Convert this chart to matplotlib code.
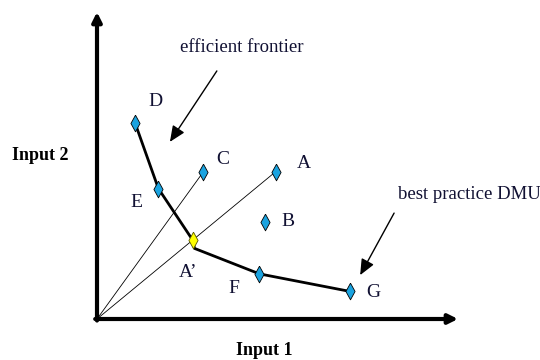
import matplotlib
matplotlib.use("Agg")
import matplotlib.pyplot as plt

# DMU positions (Input 1, Input 2)
dmu_names = ["D", "E", "C", "A", "B", "F", "G"]
input1 = [1.05, 1.70, 2.95, 4.95, 4.65, 4.50, 7.00]
input2 = [6.40, 4.25, 4.80, 4.80, 3.15, 1.47, 0.90]

# projection of A onto the frontier
a_proj = (2.65, 2.57)

# efficient frontier vertices
frontier_x = [1.05, 1.70, 2.65, 2.70, 4.50, 7.00]
frontier_y = [6.40, 4.25, 2.57, 2.30, 1.47, 0.90]

# rays from the origin
ray_targets = [(2.95, 4.80), (4.95, 4.80)]

# label positions
label_pos = {
    "D": (1.61, 7.07), "C": (3.49, 5.18), "A": (5.73, 5.08),
    "B": (5.29, 3.16), "E": (1.08, 3.78), "A\u2019": (2.52, 1.53),
    "F": (3.80, 0.98), "G": (7.65, 0.85),
}

plt.rcParams["font.family"] = ["Liberation Serif", "DejaVu Serif"]

fig = plt.figure(figsize=(5.4, 3.6), dpi=100)
ax = fig.add_axes([97 / 540, 41 / 360, 361 / 540, 307 / 360])
ax.set_xlim(0, 10)
ax.set_ylim(0, 10)
ax.axis("off")

# axes with arrow heads
axis_style = dict(arrowstyle="-|>,head_length=0.5,head_width=0.25", lw=3.0,
                  color="black", mutation_scale=11, shrinkA=0, shrinkB=0)
ax.annotate("", xy=(0, 10), xytext=(0, -0.05), arrowprops=axis_style,
            annotation_clip=False)
ax.annotate("", xy=(10, 0), xytext=(-0.05, 0), arrowprops=axis_style,
            annotation_clip=False)

# rays
for tx, ty in ray_targets:
    ax.plot([0, tx], [0, ty], color="black", lw=0.6, zorder=2)

# frontier
ax.plot(frontier_x, frontier_y, color="black", lw=2.0, zorder=3)

# markers
diamond = [(0, 1), (0.55, 0), (0, -1), (-0.55, 0), (0, 1)]
ax.plot(input1, input2, linestyle="none", marker=diamond, markersize=12,
        markerfacecolor="#1aa3e0", markeredgecolor="black",
        markeredgewidth=0.6, zorder=4)
ax.plot([a_proj[0]], [a_proj[1]], linestyle="none", marker=diamond,
        markersize=12, markerfacecolor="#ffff00", markeredgecolor="#555500",
        markeredgewidth=0.6, zorder=4)

for name, (lx, ly) in label_pos.items():
    ax.text(lx, ly, name, fontsize=14, ha="center", va="center",
            color="#111133")

# annotations
ax.text(2.30, 8.83, "efficient frontier", fontsize=13.5, ha="left",
        va="center", color="#111133")
ax.annotate("", xy=(2.02, 5.77), xytext=(3.32, 8.08),
            arrowprops=dict(arrowstyle="-|>,head_length=0.8,head_width=0.35",
                            lw=1.0, color="black", mutation_scale=12,
                            shrinkA=0, shrinkB=0))
ax.text(8.34, 4.04, "best practice DMU", fontsize=13.5, ha="left",
        va="center", color="#111133", clip_on=False)
ax.annotate("", xy=(7.29, 1.43), xytext=(8.23, 3.45),
            arrowprops=dict(arrowstyle="-|>,head_length=0.8,head_width=0.35",
                            lw=1.0, color="black", mutation_scale=12,
                            shrinkA=0, shrinkB=0))

# axis titles
ax.text(-1.58, 5.31, "Input 2", fontsize=13, fontweight="bold",
        ha="center", va="center", clip_on=False)
ax.text(4.63, -1.01, "Input 1", fontsize=13, fontweight="bold",
        ha="center", va="center", clip_on=False)

fig.savefig("out.png", dpi=100, facecolor="white")
